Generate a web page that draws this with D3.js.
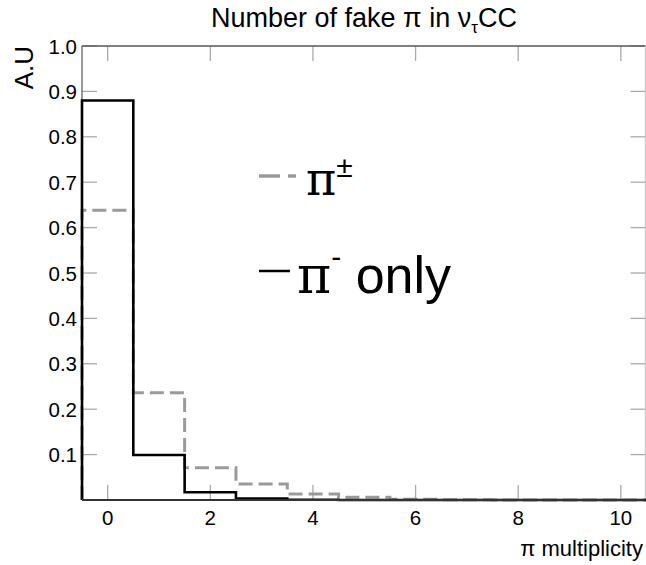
<!DOCTYPE html>
<html>
<head>
<meta charset="utf-8">
<script src="https://cdn.jsdelivr.net/npm/d3@7"></script>
<style>
  body { margin: 0; background: #fff; }
  text { font-family: "Liberation Sans", Arial, Helvetica, sans-serif; fill: #000; }
</style>
</head>
<body>
<div id="chart"></div>
<script>
// pion multiplicity bins (bin centres 0..10)
const bins = [0, 1, 2, 3, 4, 5, 6, 7, 8, 9, 10];
// pi+- (gray dashed) and pi- only (black)
const piPm    = [0.638, 0.236, 0.071, 0.035, 0.013, 0.006, 0.0015, 0.0005, 0.0002, 0.0001, 0];
const piMinus = [0.880, 0.099, 0.017, 0.003, 0.0005, 0.0001, 0, 0, 0, 0, 0];
const xTicks = [0, 2, 4, 6, 8, 10];
const yTicks = [0.1, 0.2, 0.3, 0.4, 0.5, 0.6, 0.7, 0.8, 0.9, 1.0];

const W = 646, H = 565;
const frame = { left: 82, right: 645.5, top: 46, bottom: 500 };

const svg = d3.select('#chart').append('svg')
  .attr('width', W)
  .attr('height', H);

const x = d3.scaleLinear().domain([-0.5, 10.5]).range([frame.left, 646.5]);
const y = d3.scaleLinear().domain([0, 1]).range([frame.bottom, frame.top]);

// tick marks (inside the frame, on all four sides)
const tickLen = 15;
const ticks = svg.append('g').attr('stroke', '#aaa').attr('stroke-width', 1.3);
xTicks.forEach(t => {
  ticks.append('line').attr('x1', x(t)).attr('x2', x(t)).attr('y1', frame.bottom).attr('y2', frame.bottom - tickLen);
  ticks.append('line').attr('x1', x(t)).attr('x2', x(t)).attr('y1', frame.top).attr('y2', frame.top + tickLen);
});
yTicks.forEach(t => {
  ticks.append('line').attr('y1', y(t)).attr('y2', y(t)).attr('x1', frame.left).attr('x2', frame.left + tickLen);
  ticks.append('line').attr('y1', y(t)).attr('y2', y(t)).attr('x1', frame.right).attr('x2', frame.right - tickLen);
});

// frame
svg.append('line').attr('x1', frame.left).attr('x2', frame.right).attr('y1', frame.top).attr('y2', frame.top)
  .attr('stroke', '#555').attr('stroke-width', 1.5);
svg.append('line').attr('x1', frame.right).attr('x2', frame.right).attr('y1', frame.top).attr('y2', frame.bottom)
  .attr('stroke', '#ccc').attr('stroke-width', 1.5);
svg.append('line').attr('x1', frame.left).attr('x2', frame.left).attr('y1', frame.top).attr('y2', frame.bottom)
  .attr('stroke', '#777').attr('stroke-width', 1.5);

// histograms
function histPoints(vals) {
  const pts = [{ x: -0.5, y: 0 }];
  vals.forEach((v, i) => pts.push({ x: bins[i] - 0.5, y: v }));
  pts.push({ x: bins[bins.length - 1] + 0.5, y: vals[vals.length - 1] });
  return pts;
}
const step = d3.line().x(d => x(d.x)).y(d => y(d.y)).curve(d3.curveStepAfter);

svg.append('path')
  .datum(histPoints(piPm))
  .attr('fill', 'none')
  .attr('stroke', '#9a9a9a')
  .attr('stroke-width', 3)
  .attr('stroke-dasharray', '14,6')
  .attr('d', step);

svg.append('path')
  .datum(histPoints(piMinus))
  .attr('fill', 'none')
  .attr('stroke', '#000')
  .attr('stroke-width', 2.6)
  .attr('d', step);

// bottom axis line
svg.append('line').attr('x1', frame.left).attr('x2', frame.right).attr('y1', frame.bottom).attr('y2', frame.bottom)
  .attr('stroke', '#333').attr('stroke-width', 2);

// tick labels
svg.append('g').selectAll('text').data(xTicks).join('text')
  .attr('x', d => x(d))
  .attr('y', 525)
  .attr('text-anchor', 'middle')
  .attr('font-size', 20.5)
  .text(d => d);

svg.append('g').selectAll('text').data(yTicks).join('text')
  .attr('x', 77)
  .attr('y', d => y(d) + 7.5)
  .attr('text-anchor', 'end')
  .attr('font-size', 20.5)
  .text(d => d.toFixed(1));

// axis titles
svg.append('text')
  .attr('x', 643).attr('y', 556)
  .attr('text-anchor', 'end')
  .attr('font-size', 22)
  .text('π multiplicity');

svg.append('text')
  .attr('transform', 'translate(33,46) rotate(-90)')
  .attr('text-anchor', 'end')
  .attr('font-size', 26)
  .text('A.U');

// title
const title = svg.append('text')
  .attr('x', 364).attr('y', 27)
  .attr('text-anchor', 'middle')
  .attr('font-size', 27);
title.append('tspan').text('Number of fake π in ν');
title.append('tspan').attr('font-size', 17).attr('dy', 6).text('τ');
title.append('tspan').attr('dy', -6).text('CC');

// legend
svg.append('line').attr('x1', 259).attr('x2', 296).attr('y1', 176).attr('y2', 176)
  .attr('stroke', '#9a9a9a').attr('stroke-width', 3.5).attr('stroke-dasharray', '21,8');
const l1 = svg.append('text').attr('x', 306).attr('y', 195).attr('font-size', 46);
l1.append('tspan').attr('font-family', 'DejaVu Serif').text('π');
l1.append('tspan').attr('font-size', 30).attr('dy', -18).text('±');

svg.append('line').attr('x1', 259).attr('x2', 290).attr('y1', 271).attr('y2', 271)
  .attr('stroke', '#000').attr('stroke-width', 2.5);
const l2 = svg.append('text').attr('x', 297).attr('y', 293).attr('font-size', 52);
l2.append('tspan').attr('font-family', 'DejaVu Serif').text('π');
l2.append('tspan').attr('font-size', 30).attr('dy', -26).text('-');
l2.append('tspan').attr('dy', 26).text(' only');
</script>
</body>
</html>
